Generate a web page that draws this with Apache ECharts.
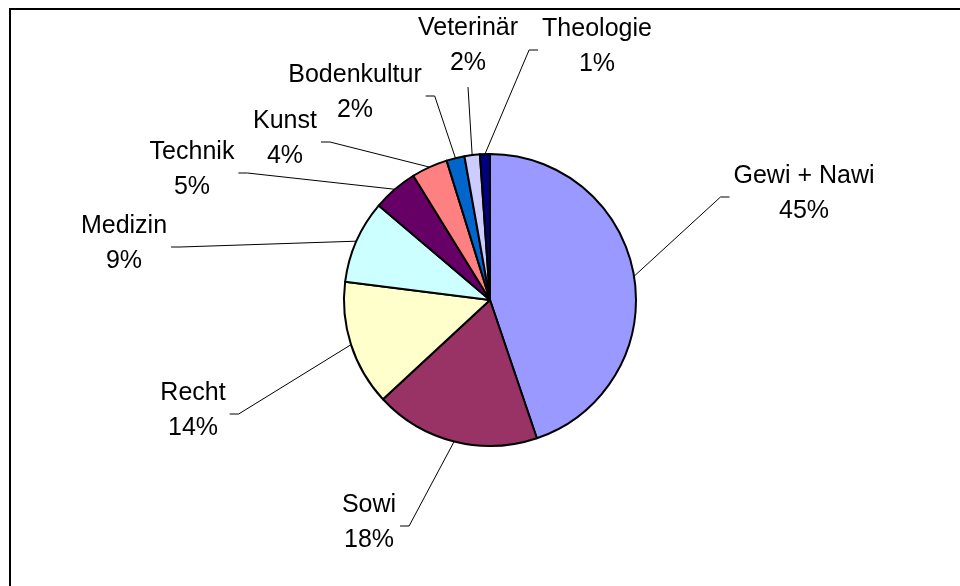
<!DOCTYPE html>
<html>
<head>
<meta charset="utf-8">
<script src="https://cdn.jsdelivr.net/npm/echarts@6/dist/echarts.min.js"></script>
<style>html,body{margin:0;padding:0;background:#fff;}#c{width:960px;height:586px;}</style>
</head>
<body>
<div id="c"></div>
<script>
// ---- data ----
var categories = ['Gewi + Nawi', 'Sowi', 'Recht', 'Medizin', 'Technik', 'Kunst', 'Bodenkultur', 'Veterinär', 'Theologie'];
var shares = [44.8, 18.3, 13.9, 9.2, 5.0, 4.0, 2.0, 1.7, 1.1];

// ---- styles / layout (kept apart from data) ----
var colors = ['#9999FF', '#993366', '#FFFFCC', '#CCFFFF', '#660066', '#FF8080', '#0066CC', '#CCCCFF', '#000080'];
var labelCenters = [[804, 194], [369, 523], [193, 411], [124, 244], [192, 170], [285, 139], [355, 93], [468, 46], [597, 47]];
var lineSide = ['left', 'right', 'right', 'right', 'right', 'right', 'right', 'bottom', 'left'];

var chart = echarts.init(document.getElementById('c'), null, {renderer: 'canvas'});
var seriesData = categories.map(function (n, i) {
  return {name: n, value: shares[i], itemStyle: {color: colors[i]}};
});

chart.setOption({
  animation: false,
  backgroundColor: '#ffffff',
  graphic: [{
    type: 'rect', silent: true,
    shape: {x: 10, y: 9, width: 1000, height: 1000},
    style: {fill: 'none', stroke: '#000', lineWidth: 2}
  }],
  series: [{
    type: 'pie',
    center: [490, 300],
    radius: 146,
    startAngle: 90,
    clockwise: true,
    avoidLabelOverlap: false,
    data: seriesData,
    itemStyle: {borderColor: '#000', borderWidth: 2},
    emphasis: {disabled: true},
    label: {
      show: true,
      position: 'outside',
      formatter: function (p) { return p.name + '\n' + Math.round(p.percent) + '%'; },
      fontFamily: 'Liberation Sans, Arial, sans-serif',
      fontSize: 25,
      lineHeight: 35,
      color: '#000',
      align: 'center'
    },
    labelLine: {show: true, length: 20, length2: 10, lineStyle: {color: '#000', width: 1}},
    labelLayout: function (params) {
      var i = params.dataIndex;
      var c = labelCenters[i];
      var w = params.labelRect.width, h = params.labelRect.height;
      var start = params.labelLinePoints ? params.labelLinePoints[0] : [c[0], c[1]];
      var end, turn;
      if (lineSide[i] === 'left') {
        end = [c[0] - w / 2 - 4, c[1] + 3];
        turn = [end[0] - 9, end[1]];
      } else if (lineSide[i] === 'right') {
        end = [c[0] + w / 2 + 4, c[1] + 3];
        turn = [end[0] + 9, end[1]];
      } else {
        end = [c[0], c[1] + h / 2 + 6];
        turn = end.slice();
      }
      return {
        x: c[0], y: c[1], align: 'center', verticalAlign: 'middle',
        labelLinePoints: [start, turn, end]
      };
    }
  }]
});
</script>
</body>
</html>
